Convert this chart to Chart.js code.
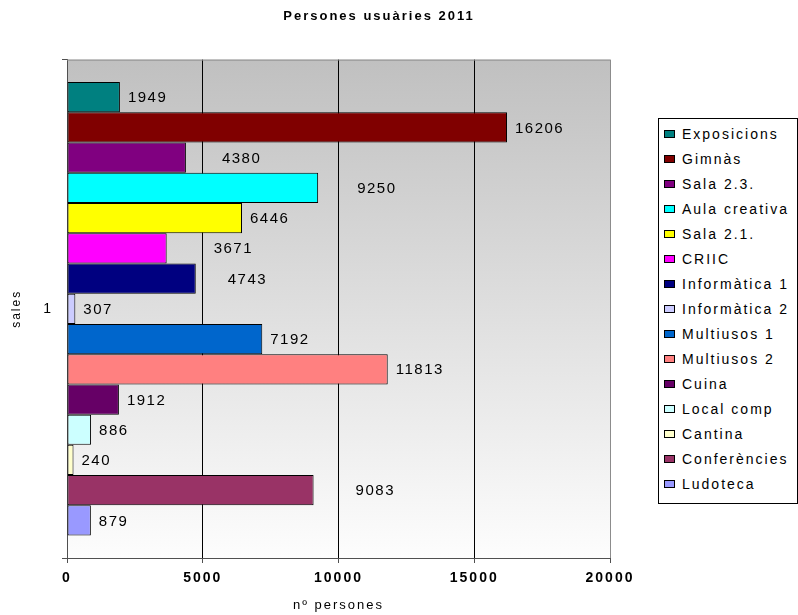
<!DOCTYPE html>
<html>
<head>
<meta charset="utf-8">
<script src="https://cdn.jsdelivr.net/npm/chart.js@4.4.1/dist/chart.umd.min.js"></script>
<style>
  body { margin: 0; background: #fff; }
  #wrap { position: relative; width: 798px; height: 615px; }
  #legend {
    position: absolute; left: 658px; top: 118px;
    width: 138px; height: 382px; padding-top: 2px;
    border: 1px solid #000; background: #fff;
    font: 14px "Liberation Sans", Arial, sans-serif; letter-spacing: 2px; color: #000;
  }
  #legend .item { display: flex; align-items: center; height: 25px; }
  #legend .box { box-sizing: border-box; width: 11px; height: 8px; margin-left: 5px; margin-right: 7px; border: 1px solid #000; }
</style>
</head>
<body>
<div id="wrap">
  <canvas id="chart" width="798" height="615"></canvas>
  <div id="legend"></div>
</div>
<script>
const categories = ['1'];
const rooms = ['Exposicions', 'Gimnàs', 'Sala 2.3.', 'Aula creativa', 'Sala 2.1.', 'CRIIC',
  'Informàtica 1', 'Informàtica 2', 'Multiusos 1', 'Multiusos 2', 'Cuina', 'Local comp',
  'Cantina', 'Conferències', 'Ludoteca'];
const users = [1949, 16206, 4380, 9250, 6446, 3671, 4743, 307, 7192, 11813, 1912, 886, 240, 9083, 879];
const xTicks = [0, 5000, 10000, 15000, 20000];

const colors = ['#008080', '#800000', '#800080', '#00ffff', '#ffff00', '#ff00ff',
  '#000080', '#ccccff', '#0066cc', '#ff8080', '#660066', '#ccffff',
  '#ffffcc', '#993366', '#9999ff'];
// some labels sit further right in the original
const labelNudge = { 'Sala 2.3.': 28, 'Aula creativa': 31, 'CRIIC': 39, 'Informàtica 1': 24, 'Conferències': 34 };

Chart.defaults.font.family = '"Liberation Sans", Arial, sans-serif';
Chart.defaults.color = '#000';

const spacing = {
  id: 'spacing',
  beforeUpdate(chart) { chart.ctx.letterSpacing = '2px'; },
  beforeDraw(chart) { chart.ctx.letterSpacing = '2px'; }
};

const plotBg = {
  id: 'plotBg',
  beforeDraw(chart) {
    const { ctx, chartArea: a } = chart;
    const g = ctx.createLinearGradient(0, a.top, 0, a.bottom);
    g.addColorStop(0, '#c0c0c0');
    g.addColorStop(1, '#fdfdfd');
    ctx.save();
    ctx.fillStyle = g;
    ctx.fillRect(a.left, a.top, a.right - a.left, a.bottom - a.top);
    ctx.restore();
  },
  beforeDatasetsDraw(chart) {
    const { ctx, chartArea: a } = chart;
    ctx.save();
    ctx.strokeStyle = '#8c8c8c';
    ctx.lineWidth = 1;
    ctx.beginPath();
    ctx.moveTo(a.left, a.top + 0.5);
    ctx.lineTo(a.right, a.top + 0.5);
    ctx.stroke();
    ctx.restore();
  }
};

const barLabels = {
  id: 'barLabels',
  afterDatasetsDraw(chart) {
    const ctx = chart.ctx;
    ctx.save();
    ctx.letterSpacing = '1.5px';
    ctx.font = '15px "Liberation Sans", Arial, sans-serif';
    ctx.fillStyle = '#000';
    ctx.textAlign = 'left';
    ctx.textBaseline = 'middle';
    chart.data.datasets.forEach((ds, i) => {
      const el = chart.getDatasetMeta(i).data[0];
      const shift = labelNudge[ds.label] || 0;
      ctx.fillText(String(ds.data[0]), el.x + 8 + shift, el.y + 1);
    });
    ctx.restore();
  }
};

const datasets = rooms.map((name, i) => ({
  label: name,
  data: [users[i]],
  backgroundColor: colors[i],
  borderColor: '#000',
  borderWidth: 1,
  borderSkipped: false,
  barPercentage: 1,
  categoryPercentage: 0.91
}));

const chart = new Chart(document.getElementById('chart'), {
  type: 'bar',
  data: { labels: categories, datasets: datasets },
  plugins: [spacing, plotBg, barLabels],
  options: {
    indexAxis: 'y',
    responsive: false,
    animation: false,
    layout: { padding: { right: 40 } },
    plugins: {
      legend: { display: false },
      tooltip: { enabled: false },
      title: {
        display: true,
        text: 'Persones usuàries 2011',
        font: { size: 13, weight: 'bold' },
        padding: { top: 9, bottom: 35 }
      }
    },
    scales: {
      x: {
        min: 0,
        max: 20000,
        afterBuildTicks(scale) { scale.ticks = xTicks.map(v => ({ value: v })); },
        afterFit(scale) { scale.height = 57; },
        ticks: { font: { size: 14, weight: 'bold' }, padding: 7, callback: v => String(v) },
        grid: {
          color: c => c.tick.value === 0 ? 'rgba(0,0,0,0)' : (c.tick.value === 20000 ? '#8c8c8c' : '#000'),
          tickColor: '#505050',
          tickLength: 5
        },
        border: { color: '#505050' },
        title: { display: true, text: 'nº persones', font: { size: 13 }, padding: { top: 0, bottom: 2 } }
      },
      y: {
        afterFit(scale) { scale.width = 67; },
        ticks: { font: { size: 14 }, padding: 9 },
        grid: { drawOnChartArea: false, color: '#505050', tickLength: 5 },
        border: { color: '#505050' },
        title: { display: true, text: 'sales', font: { size: 12 }, padding: { top: 9, bottom: 0 } }
      },
      // empty space on the right that holds the legend
      yRight: {
        axis: 'y',
        type: 'linear',
        position: 'right',
        afterFit(scale) { scale.width = 148; },
        ticks: { display: false },
        grid: { display: false },
        border: { display: false }
      }
    }
  }
});

const legend = document.getElementById('legend');
chart.data.datasets.forEach(ds => {
  const item = document.createElement('div');
  item.className = 'item';
  const box = document.createElement('span');
  box.className = 'box';
  box.style.background = ds.backgroundColor;
  const txt = document.createElement('span');
  txt.textContent = ds.label;
  item.appendChild(box);
  item.appendChild(txt);
  legend.appendChild(item);
});
</script>
</body>
</html>
